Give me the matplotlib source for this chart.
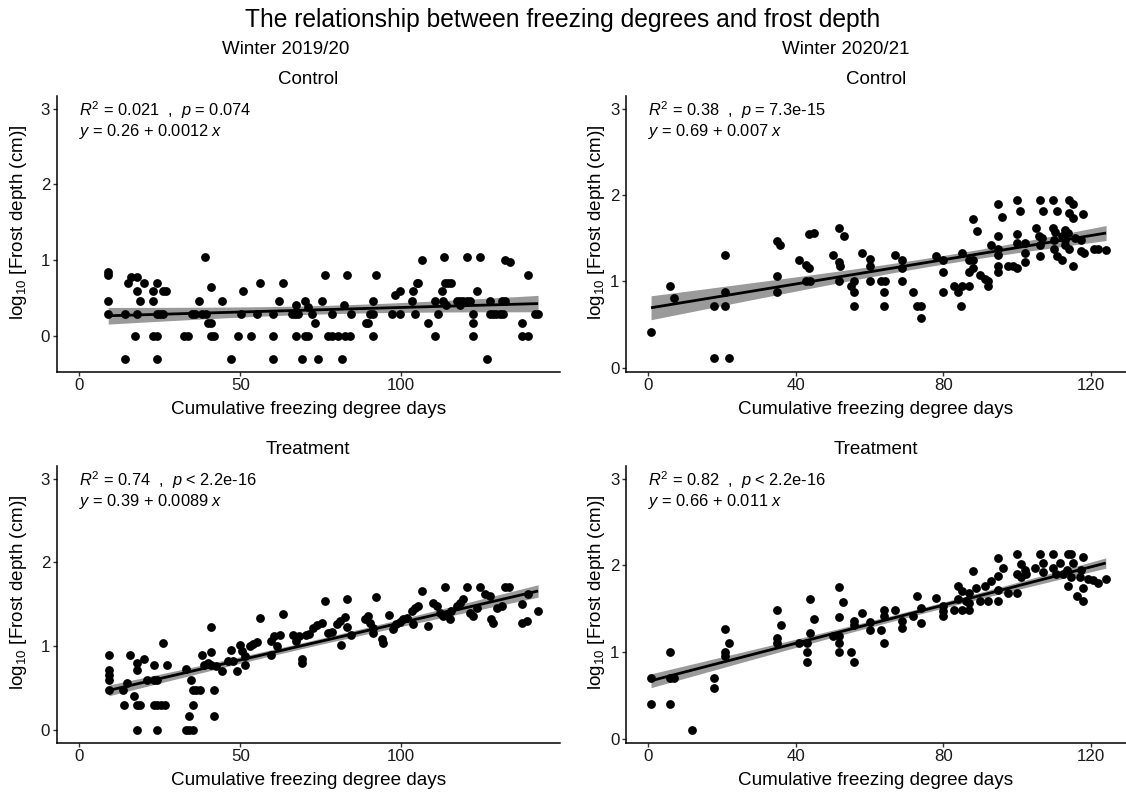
import numpy as np
import matplotlib
matplotlib.use("Agg")
import matplotlib.pyplot as plt

plt.rcParams['font.family'] = ['Liberation Sans', 'DejaVu Sans']
plt.rcParams['mathtext.fontset'] = 'custom'
plt.rcParams['mathtext.rm'] = 'Liberation Sans'
plt.rcParams['mathtext.it'] = 'Liberation Sans:italic'

# cumulative freezing degree days (x) and log10 frost depth (y) per plot

fdd_1920_control = [
    9, 9, 9, 9, 14.2, 14.2, 15.2, 16, 17.8, 17.3, 18, 18, 19, 20,
    23, 24, 23, 24, 25, 23, 24, 24, 26, 27, 26,
    32.5, 33.9, 34.9, 35.9, 37.3, 38, 39.5, 39, 40, 41, 41, 41, 42, 44.2,
    47.1, 49.2, 50.2, 50.9, 53.2, 55.3, 56.1,
    60.2, 60.2, 60.2, 62.1, 63.4, 66, 67, 68, 67.3, 67.3, 69.3, 70, 70, 71, 71, 72.2, 73.2, 74.2,
    75.3, 76.3, 77.3, 78.4, 78.4,
    80.4, 82.5, 84, 81.5, 82.3, 83.3, 84.4, 89.2, 89.8, 90.3, 91.3, 91.3, 91.3, 92.3,
    97, 99.6, 98, 99.6, 103.2, 103.7, 104.8, 104.2, 106.3, 105.3, 108.4,
    110.5, 110.5, 111.5, 112.5, 113.6, 114.6, 113, 114, 113.4, 115.6,
    117.3, 118.3, 119.3, 120.3, 121.3, 118.2, 120.3, 122.4, 122.4, 122.4, 123.4, 124.4,
    126.5, 127.5, 127.5, 128.5, 129.5, 130.6, 131.7, 131.2, 132.2, 132.2, 133.7,
    137.4, 137.4, 139.4, 139.4, 141.5, 142.5]
depth_1920_control = [
    0.85, 0.81, 0.47, 0.30, 0.30, -0.30, 0.70, 0.78, 0.78, 0, 0.60, 0.30, 0.47, 0.70,
    0.60, 0.70, 0.47, 0.30, 0.30, 0, 0, -0.30, 0.60, 0.60, 0.30,
    0, 0, 0.30, 0.30, 0.47, 0.30, 0.30, 1.04, 0.17, 0.17, 0.65, 0, 0, 0.47,
    -0.30, 0, 0.30, 0.60, 0, 0.30, 0.70,
    0.30, 0, -0.30, 0.47, 0.70, 0.30, 0.30, 0.30, 0.41, 0, -0.30, 0.47, 0, 0, 0.39, 0.30, 0.17, -0.30,
    0.47, 0.81, 0, 0, 0.30,
    0, 0, 0, -0.30, 0.41, 0.81, 0.30, 0.17, 0.17, 0.30, 0.30, 0.47, 0, 0.81,
    0.30, 0.30, 0.54, 0.60, 0.47, 0.60, 0.70, 0.30, 1.0, 0.70, 0.17,
    0.47, 0, 0.30, 0.60, 0.70, 0.70, 0.47, 0.41, 1.04, 0.70,
    0.47, 0.47, 0.47, 0.47, 0.47, 0.41, 1.04, 0.30, 0.17, 0, 0.60, 1.04,
    -0.30, 0.47, 0.30, 0.30, 0.30, 0.30, 0.30, 0.47, 0.47, 1.0, 0.98,
    0.17, 0, 0, 0.81, 0.30, 0.30]

fdd_2021_control = [
    0.7, 5.9, 6.8, 17.8, 17.8, 20.9, 20.9, 20.9, 21.8,
    34.8, 35.7, 35, 35, 40.9, 42.7, 43.6, 42.7, 43.9, 43.6, 44.8,
    50, 51.8, 51.8, 52, 51.8, 53, 55, 55.9, 55.9, 55.9, 58, 60, 60, 60,
    63, 64.1, 63.9, 63.9, 66.8, 68.9, 68.9, 68.9, 71.9, 73, 74, 73.9,
    78, 80, 80, 80, 83, 84, 84.8, 85, 85, 87.1, 87.1, 88, 87.1, 88, 88, 89.1,
    90.1, 91.2, 92.1, 92.1, 93, 94.8, 94.8, 94.8, 94.8, 94.8, 94.8, 96, 97.5, 98.9,
    100, 100, 100, 100, 100.9, 102.1, 102.1, 102.1,
    105.3, 106, 106.8, 106.2, 106.2, 106.2, 107.1,
    109.8, 109.8, 110.3, 110, 110, 110.9, 110.9, 112.1, 112.1, 113, 113, 113.9, 114.2, 115.1,
    114.2, 115.1, 113, 114.2, 115.1, 115.8, 117.3, 117.3, 118, 118.2,
    120.9, 122.1, 124.2]
depth_2021_control = [
    0.41, 0.95, 0.81, 0.71, 0.11, 1.31, 0.88, 0.71, 0.11,
    1.47, 1.42, 1.06, 0.88, 1.25, 1.19, 1.15, 1.01, 1.01, 1.55, 1.56,
    1.31, 1.62, 1.22, 1.18, 1.0, 1.52, 0.95, 1.01, 0.88, 0.71, 1.33, 1.26, 1.18, 1.0,
    1.0, 1.0, 0.88, 0.71, 1.31, 1.25, 1.15, 1.0, 0.88, 0.71, 0.71, 0.58,
    1.29, 1.25, 1.11, 0.88, 0.95, 0.88, 0.71, 1.33, 0.95, 0.95, 1.25, 1.25, 1.11, 1.15, 1.72, 1.58,
    1.07, 1.03, 1.0, 0.95, 1.42, 1.9, 1.52, 1.38, 1.3, 1.18, 1.11, 1.75, 1.18, 1.18,
    1.94, 1.55, 1.44, 1.15, 1.81, 1.44, 1.33, 1.22,
    1.62, 1.52, 1.5, 1.94, 1.42, 1.29, 1.81,
    1.94, 1.62, 1.57, 1.48, 1.38, 1.81, 1.29, 1.25, 1.52, 1.48, 1.6, 1.56, 1.94, 1.9,
    1.79, 1.73, 1.42, 1.37, 1.18, 1.5, 1.48, 1.35, 1.78, 1.33,
    1.38, 1.37, 1.36]

fdd_1920_treatment = [
    9.2, 9.2, 9.2, 9.2, 9.2, 13.7, 14.7, 14, 15.9, 17, 18, 18, 18, 19, 18, 20, 21,
    23.2, 23.2, 24.2, 23.2, 24.2, 25.3, 26.6, 24.2, 26.1, 27.1,
    33, 33, 34, 35.4, 34, 34.6, 35.2, 35.4, 36.4, 37.5, 38, 38.7, 40, 41, 41, 41, 41.8, 41.8, 42.6, 44.2,
    46.3, 47.1, 47.8, 49, 49.9, 50.7, 51.4, 51.4, 53, 54, 55.3, 56.1,
    59.4, 59.4, 60.5, 61.3, 62.3, 63.4, 66.5, 67.3, 68.3, 69.3, 69.3, 70.4, 71.4, 72.7, 73.7,
    75.3, 76.3, 77.3, 78.4,
    79.9, 81, 82.5, 81.3, 83, 83.2, 84.3, 88.7, 89.7, 90.3, 91.3, 91.3, 92.3, 93.9, 94.4,
    96.3, 97.5, 98.5, 99.6,
    100.6, 101.7, 103.2, 104.2, 105.3, 103.7, 106.3, 108.4, 110, 111, 112, 113, 114, 113.6, 115, 115.6,
    117.2, 118.2, 119.3, 120.3, 121.3, 122.4, 123.4, 124.4, 126, 127.5, 128, 128.6, 129.6, 131.2,
    132.2, 133.5, 137.4, 137.4, 139, 139.4, 142.5]
depth_1920_treatment = [
    0.9, 0.72, 0.65, 0.6, 0.48, 0.48, 0.56, 0.3, 0.9, 0.41, 0.8, 0.72, 0.3, 0.3, 0, 0.85, 0.6,
    0.77, 0.6, 0.6, 0.3, 0.3, 0.3, 0.3, 0, 1.04, 0.77,
    0.73, 0, 0, 0, 0.17, 0.6, 0.48, 0.3, 0.48, 0.48, 0.9, 0.77, 0.8, 0.77, 0.93, 1.23, 0.48, 0.17, 0.76, 0.7,
    0.82, 0.95, 0.82, 0.7, 1.01, 0.94, 0.88, 0.78, 1.0, 1.03, 1.05, 1.34,
    1.06, 0.9, 1.12, 1.0, 1.13, 1.38, 1.13, 1.06, 1.12, 0.85, 0.8, 1.13, 1.14, 1.22, 1.25,
    1.28, 1.54, 1.16, 1.17,
    1.27, 1.3, 1.35, 1.01, 1.56, 1.23, 1.13, 1.32, 1.36, 1.28, 1.22, 1.16, 1.59, 1.08, 1.04,
    1.37, 1.2, 1.26, 1.29,
    1.32, 1.33, 1.42, 1.46, 1.48, 1.26, 1.66, 1.24, 1.51, 1.48, 1.4, 1.36, 1.38, 1.7, 1.32, 1.42,
    1.48, 1.52, 1.56, 1.7, 1.4, 1.36, 1.46, 1.7, 1.62, 1.6, 1.32, 1.28, 1.46, 1.48,
    1.7, 1.7, 1.5, 1.28, 1.3, 1.62, 1.42]

fdd_2021_treatment = [
    0.7, 0.7, 5.9, 5.9, 6.8, 5.9, 11.9, 17.8, 17.8, 20.9, 20.9, 20.9, 21.8,
    35, 35, 35, 35.9, 40.9, 43, 43, 43, 43.9, 43.9, 44.8,
    50, 51.8, 51.8, 51.8, 51.8, 51.8, 52.8, 55, 55.9, 55.9, 55.9, 58, 60, 60,
    63, 63.9, 63.9, 63.9, 66.8, 68.9, 68.9, 71.9, 73, 73.9, 73.9,
    78, 80, 80, 80, 83, 84.1, 83.9, 85, 85, 86.2, 87.1, 87.1, 87.1, 88, 88.9,
    90.1, 91.2, 92.1, 93, 94.8, 94.8, 94.8, 94.8, 96.2, 97.7, 100, 100, 100, 101.2, 101.2, 102.1, 102.5,
    104.8, 106.2, 107.1, 107.1, 109.8, 109.8, 110.7, 111.6, 112.5, 113.5, 113.9, 114.8, 113.9, 114.8,
    115.3, 116.2, 117.1, 117.5, 118, 118, 118,
    119.4, 120.7, 122.1, 124.1]
depth_2021_treatment = [
    0.7, 0.4, 1.0, 0.7, 0.7, 0.4, 0.1, 0.7, 0.58, 1.27, 1.0, 0.95, 1.1,
    1.48, 1.16, 1.1, 1.31, 1.1, 1.1, 1.0, 0.88, 1.61, 1.22, 1.38,
    1.18, 1.75, 1.4, 1.18, 1.1, 1.0, 1.58, 1.0, 0.88, 1.36, 1.31, 1.45, 1.34, 1.25,
    1.25, 1.48, 1.42, 1.1, 1.48, 1.36, 1.28, 1.42, 1.65, 1.51, 1.33,
    1.62, 1.53, 1.47, 1.41, 1.48, 1.61, 1.76, 1.48, 1.7, 1.59, 1.48, 1.57, 1.68, 1.93, 1.74,
    1.59, 1.76, 1.59, 1.82, 2.08, 1.88, 1.72, 1.59, 1.97, 1.68, 1.68, 2.13, 1.9, 2.01, 1.86, 1.95, 1.9,
    1.97, 2.13, 2.03, 1.92, 2.13, 1.97, 1.9, 2.03, 1.9, 1.95, 2.13, 2.13, 1.76, 1.86,
    2.03, 1.65, 1.86, 1.95, 2.1, 1.74, 1.59,
    1.84, 1.83, 1.8, 1.84]

# regression results as reported on each panel: intercept, slope, R2, p
fit_1920_control = (0.26, 0.0012, 0.021, '$p$ = 0.074')
fit_2021_control = (0.69, 0.007, 0.38, '$p$ = 7.3e-15')
fit_1920_treatment = (0.39, 0.0089, 0.74, '$p$ < 2.2e-16')
fit_2021_treatment = (0.66, 0.011, 0.82, '$p$ < 2.2e-16')

W, H = 1126, 793


def axes_at(fig, left, top, right, bottom):
    # pixel box -> figure fraction
    return fig.add_axes([left / W, 1 - bottom / H, (right - left) / W, (bottom - top) / H])


def panel(ax, x, y, fit, title, xlim, ylim, xticks, ylabel_x):
    x = np.asarray(x, dtype=float)
    y = np.asarray(y, dtype=float)
    intercept, slope, r2, ptext = fit

    # fitted line with 95% confidence band; residual sd follows from slope and R2
    xs = np.linspace(x.min(), x.max(), 100)
    line = intercept + slope * xs
    n = len(x)
    sxx = np.sum((x - x.mean()) ** 2)
    s = np.sqrt(slope ** 2 * sxx / n * (1 - r2) / r2)
    se = s * np.sqrt(1.0 / n + (xs - x.mean()) ** 2 / sxx)
    ax.fill_between(xs, line - 1.97 * se, line + 1.97 * se, color='#9a9a9a', lw=0, zorder=1)
    ax.scatter(x, y, s=40, c='black', linewidths=0, zorder=2)
    ax.plot(xs, line, color='black', lw=2.0, zorder=3, solid_capstyle='butt')

    ax.annotate(r'$R^2$ = %g  ,  ' % r2 + ptext, xy=(0, 3), xytext=(0, -5.2),
                textcoords='offset points', ha='left', va='baseline', fontsize=11.8)
    ax.annotate(r'$y$ = %g + %g $x$' % (intercept, slope), xy=(0, 3), xytext=(0, -19.6),
                textcoords='offset points', ha='left', va='baseline', fontsize=11.8)

    ax.set_xlim(*xlim)
    ax.set_ylim(*ylim)
    ax.set_xticks(xticks)
    ax.set_yticks([0, 1, 2, 3])
    for side in ['top', 'right']:
        ax.spines[side].set_visible(False)
    for side in ['left', 'bottom']:
        ax.spines[side].set_linewidth(1.1)
        ax.spines[side].set_color('black')
    ax.tick_params(direction='out', length=2.9, width=1.0, color='#333333',
                   labelsize=12.2, labelcolor='#1a1a1a')
    ax.tick_params(axis='x', pad=1.8)
    ax.tick_params(axis='y', pad=1.8)

    ax.set_xlabel('Cumulative freezing degree days', fontsize=13.6)
    ax.set_ylabel(r'log$_{10}$ [Frost depth (cm)]', fontsize=13.6)
    h = ax.get_position().height * H
    ax.xaxis.set_label_coords(0.5, -29.5 / h)
    ax.yaxis.set_label_coords(ylabel_x, 0.543)
    ax.text(0.5, 1 + 12.5 / h, title, transform=ax.transAxes, ha='center', va='baseline',
            fontsize=13.5)


fig = plt.figure(figsize=(W / 100, H / 100), dpi=100)

ax1 = axes_at(fig, 56.7, 96, 560, 371.7)
ax2 = axes_at(fig, 626, 96, 1126, 371.7)
ax3 = axes_at(fig, 56.7, 466, 560, 742.5)
ax4 = axes_at(fig, 626, 466, 1126, 742.5)

panel(ax1, fdd_1920_control, depth_1920_control, fit_1920_control, 'Control',
      (-7.0, 149.3), (-0.466, 3.165), [0, 50, 100], -0.056)
panel(ax2, fdd_2021_control, depth_2021_control, fit_2021_control, 'Control',
      (-6.1, 129.6), (-0.045, 3.145), [0, 40, 80, 120], -0.038)
panel(ax3, fdd_1920_treatment, depth_1920_treatment, fit_1920_treatment, 'Treatment',
      (-7.0, 149.3), (-0.15, 3.15), [0, 50, 100], -0.056)
panel(ax4, fdd_2021_treatment, depth_2021_treatment, fit_2021_treatment, 'Treatment',
      (-6.1, 129.6), (-0.045, 3.145), [0, 40, 80, 120], -0.038)

fig.text(0.5, 1 - 26.7 / H, 'The relationship between freezing degrees and frost depth',
         ha='center', va='baseline', fontsize=17.7)
fig.text(286 / W, 1 - 54.3 / H, 'Winter 2019/20', ha='center', va='baseline', fontsize=13.5)
fig.text(846 / W, 1 - 54.3 / H, 'Winter 2020/21', ha='center', va='baseline', fontsize=13.5)

fig.savefig('out.png', dpi=100)
